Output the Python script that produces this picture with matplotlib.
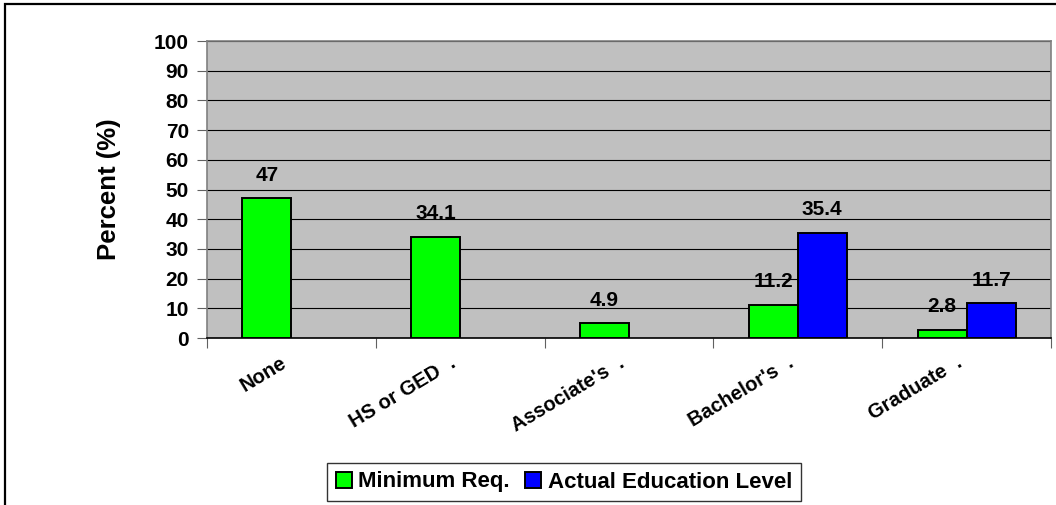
import numpy as np
import matplotlib
matplotlib.use("Agg")
import matplotlib.pyplot as plt
from matplotlib.patches import Rectangle
from matplotlib.transforms import ScaledTranslation

plt.rcParams['font.family'] = ['Liberation Sans', 'DejaVu Sans']
plt.rcParams['font.weight'] = 'bold'

categories = ["None", "HS or GED  .", "Associate's  .", "Bachelor's  .", "Graduate  ."]
minimum_req = [47, 34.1, 4.9, 11.2, 2.8]
actual_level = [np.nan, np.nan, np.nan, 35.4, 11.7]
series_names = ["Minimum Req.", "Actual Education Level"]
yticks = list(range(0, 101, 10))

W, H, DPI = 1056, 505, 100
fig = plt.figure(figsize=(W / DPI, H / DPI), dpi=DPI)
ax = fig.add_axes([207 / W, (H - 338) / H, 844 / W, 297 / H])

x = np.arange(len(categories))
bw = 0.29
green = ax.bar(x - bw / 2, minimum_req, bw, color="#00FF00", edgecolor="black",
               linewidth=1.4, label=series_names[0], zorder=3)
blue = ax.bar(x + bw / 2, actual_level, bw, color="#0000FF", edgecolor="black",
              linewidth=1.4, label=series_names[1], zorder=3)

for bars, vals in ((green, minimum_req), (blue, actual_level)):
    for rect, v in zip(bars, vals):
        if np.isnan(v):
            continue
        ax.annotate(f"{v:g}", (rect.get_x() + rect.get_width() / 2, v),
                    xytext=(0, 16.5), textcoords="offset points",
                    ha="center", va="center", fontsize=15, fontweight="bold",
                    zorder=4)

ax.set_facecolor("#C0C0C0")
ax.set_xlim(-0.5, len(categories) - 0.5)
ax.set_ylim(0, 100)
ax.set_yticks(yticks)
ax.set_yticklabels([str(t) for t in yticks], fontsize=15, fontweight="bold")
ax.yaxis.grid(True, color="black", linewidth=0.8, zorder=1)
ax.set_axisbelow(True)
ax.tick_params(axis="y", length=7, width=0.8, color="#606060", pad=6)

# category labels at centres, tick marks at category boundaries
ax.set_xticks(x)
ax.set_xticklabels(categories, rotation=31, ha="right", va="top",
                   rotation_mode="anchor", fontsize=14.5, fontweight="bold")
ax.tick_params(axis="x", which="major", length=0, pad=11)
shift = ScaledTranslation(-11 / DPI, 0, fig.dpi_scale_trans)
for lbl in ax.get_xticklabels():
    lbl.set_transform(lbl.get_transform() + shift)
ax.set_xticks(np.arange(-0.5, len(categories)), minor=True)
ax.tick_params(axis="x", which="minor", length=7, width=0.8, color="#606060")

for side in ("left", "top", "right"):
    ax.spines[side].set_color("#808080")
    ax.spines[side].set_linewidth(1.2)
ax.spines["bottom"].set_color("black")
ax.spines["bottom"].set_linewidth(1.2)

ax.set_ylabel("Percent (%)", fontsize=18.5, fontweight="bold")
ax.yaxis.set_label_coords(-0.102, 0.5)

leg = fig.legend(handles=[green, blue], labels=series_names, loc="center",
                 bbox_to_anchor=(564 / W, 1 - 482 / H), ncol=2, frameon=True,
                 fancybox=False, edgecolor="black", fontsize=16,
                 handlelength=0.7, handleheight=0.7, handletextpad=0.3,
                 columnspacing=0.7, borderpad=0.4, borderaxespad=0)
leg.get_frame().set_linewidth(1.0)
for t in leg.get_texts():
    t.set_fontweight("bold")

fig.patches.append(Rectangle((5 / W, -0.1), 1.2, 1 - 4 / H + 0.1,
                             transform=fig.transFigure, fill=False,
                             edgecolor="black", linewidth=1.6))

fig.savefig("out.png", dpi=DPI)
